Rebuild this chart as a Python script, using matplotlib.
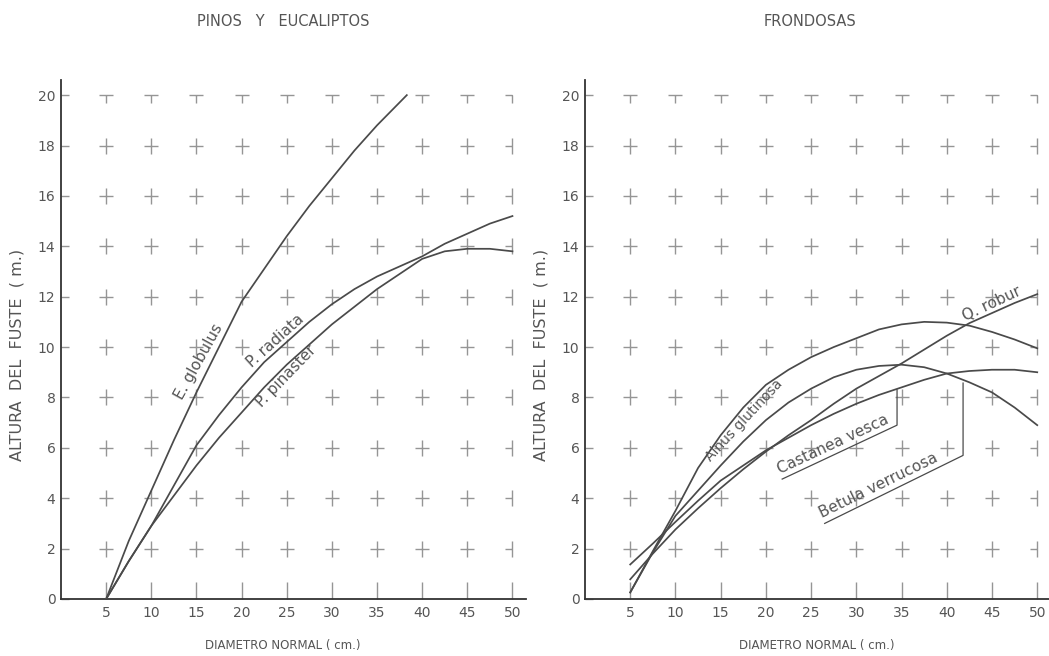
import numpy as np
import matplotlib
matplotlib.use("Agg")
import matplotlib.pyplot as plt
from matplotlib.path import Path

# Curves (diametro normal cm -> altura del fuste m)
d_glob = [5, 7.5, 10, 12.5, 15, 17.5, 20, 22.5, 25, 27.5, 30, 32.5, 35, 38.3]
h_glob = [0, 2.3, 4.3, 6.3, 8.2, 10.0, 11.8, 13.1, 14.4, 15.6, 16.7, 17.8, 18.8, 20.0]

d_pinos = [5, 7.5, 10, 12.5, 15, 17.5, 20, 22.5, 25, 27.5, 30, 32.5, 35, 37.5, 40, 42.5, 45, 47.5, 50]
h_radiata = [0, 1.5, 2.9, 4.5, 6.1, 7.3, 8.4, 9.4, 10.2, 11.0, 11.7, 12.3, 12.8, 13.2, 13.6, 14.1, 14.5, 14.9, 15.2]
h_pinaster = [0, 1.5, 2.9, 4.1, 5.3, 6.4, 7.4, 8.4, 9.3, 10.1, 10.9, 11.6, 12.3, 12.9, 13.5, 13.8, 13.9, 13.9, 13.8]

d_frond = [5, 7.5, 10, 12.5, 15, 17.5, 20, 22.5, 25, 27.5, 30, 32.5, 35, 37.5, 40, 42.5, 45, 47.5, 50]
h_alnus = [0.26, 1.9, 3.5, 5.2, 6.5, 7.6, 8.5, 9.1, 9.6, 10.0, 10.35, 10.7, 10.9, 11.0, 10.97, 10.85, 10.6, 10.3, 9.95]
h_betula = [0.26, 1.85, 3.3, 4.3, 5.3, 6.25, 7.1, 7.8, 8.35, 8.8, 9.1, 9.25, 9.3, 9.2, 8.95, 8.6, 8.2, 7.6, 6.9]
h_castanea = [1.37, 2.2, 3.06, 3.9, 4.7, 5.3, 5.9, 6.4, 6.9, 7.35, 7.75, 8.1, 8.4, 8.7, 8.95, 9.05, 9.1, 9.1, 9.0]
h_robur = [0.78, 1.8, 2.76, 3.6, 4.4, 5.15, 5.85, 6.5, 7.1, 7.75, 8.35, 8.85, 9.35, 9.9, 10.45, 10.95, 11.35, 11.75, 12.1]

x_grid = [5, 10, 15, 20, 25, 30, 35, 40, 45, 50]
y_grid = [2, 4, 6, 8, 10, 12, 14, 16, 18, 20]

INK = "#4a4a4a"
TXT = "#555555"
CROSS = "#959595"


def mk(segs):
    verts, codes = [], []
    for a, b in segs:
        verts += [a, b]
        codes += [Path.MOVETO, Path.LINETO]
    return Path(verts, codes)


plus = mk([((-1, 0), (1, 0)), ((0, -1.15), (0, 1.15))])
tee = mk([((-1, 0), (1, 0)), ((0, 0), (0, -1.15))])
ltee = mk([((-1, 0), (0, 0)), ((0, -1.15), (0, 1.15))])
corner = mk([((-1, 0), (0, 0)), ((0, 0), (0, -1.15))])


def base(ax, xmax):
    ax.set_xlim(0, xmax)
    ax.set_ylim(0, 20.6)
    for s in ["top", "right"]:
        ax.spines[s].set_visible(False)
    for s in ["left", "bottom"]:
        ax.spines[s].set_color("#333333")
        ax.spines[s].set_linewidth(1.3)
    ax.set_xticks(x_grid)
    ax.set_yticks([0] + y_grid)
    ax.tick_params(axis="x", direction="in", length=12, width=1, color=CROSS,
                   labelsize=10, labelcolor=TXT, pad=5)
    ax.tick_params(axis="y", direction="in", length=6, width=1, color=CROSS,
                   labelsize=10, labelcolor=TXT, pad=4)
    for xv in x_grid:
        for yv in y_grid:
            if yv == 20 and xv == 50:
                m = corner
            elif yv == 20:
                m = tee
            elif xv == 50:
                m = ltee
            else:
                m = plus
            ax.plot(xv, yv, marker=m, ms=12, mew=1.0, color=CROSS, zorder=1, clip_on=False)


def curve_label(ax, text, x, d, h, rot, off, size=11):
    # label sitting beside a curve, shifted off it in points
    ax.annotate(text, xy=(x, np.interp(x, d, h)), xytext=off, textcoords="offset points",
                rotation=rot, rotation_mode="anchor", ha="center", va="center",
                color=TXT, fontsize=size, zorder=4)


def leader_label(ax, text, line_x, line_y, xc, rot):
    # underlined label with a leader running up to its curve
    ax.plot(line_x, line_y, color=INK, lw=0.9, zorder=3)
    yc = np.interp(xc, line_x[:2], line_y[:2])
    ax.annotate(text, xy=(xc, yc), xytext=(-1.0, 1.5), textcoords="offset points",
                rotation=rot, rotation_mode="anchor", ha="center", va="bottom",
                color=TXT, fontsize=11, zorder=4)


fig = plt.figure(figsize=(10.49, 6.56), dpi=100)
ax1 = fig.add_axes([61 / 1049, 1 - 599 / 656, 465 / 1049, 519 / 656])
ax2 = fig.add_axes([585 / 1049, 1 - 599 / 656, 464 / 1049, 519 / 656])
base(ax1, 51.5)
base(ax2, 51.3)

lw = 1.25
ax1.plot(d_glob, h_glob, color=INK, lw=lw, zorder=3)
ax1.plot(d_pinos, h_radiata, color=INK, lw=lw, zorder=3)
ax1.plot(d_pinos, h_pinaster, color=INK, lw=lw, zorder=3)

ax2.plot(d_frond, h_alnus, color=INK, lw=lw, zorder=3)
ax2.plot(d_frond, h_betula, color=INK, lw=lw, zorder=3)
ax2.plot(d_frond, h_castanea, color=INK, lw=lw, zorder=3)
ax2.plot(d_frond, h_robur, color=INK, lw=lw, zorder=3)

curve_label(ax1, "E. globulus", 16.4, d_glob, h_glob, 61, (-7.5, 3.8))
curve_label(ax1, "P. radiata", 24.4, d_pinos, h_radiata, 42, (-4.0, 4.5))
curve_label(ax1, "P. pinaster", 24.3, d_pinos, h_pinaster, 46, (4.0, -4.0))

curve_label(ax2, "Alnus glutinosa", 16.9, d_frond, h_alnus, 47, (4.7, -4.2), size=10)
curve_label(ax2, "Q. robur", 45.3, d_frond, h_robur, 25, (-2.5, 6.0))
leader_label(ax2, "Castanea vesca", [21.8, 34.5, 34.5], [4.76, 6.9, 8.3], 27.9, 25)
leader_label(ax2, "Betula verrucosa", [26.5, 41.8, 41.8], [3.0, 5.7, 8.57], 33.0, 26)

fig.text(283 / 1049, 1 - 22 / 656, "PINOS   Y   EUCALIPTOS", color=TXT, fontsize=10.5,
         ha="center", va="center")
fig.text(810 / 1049, 1 - 22 / 656, "FRONDOSAS", color=TXT, fontsize=10.5,
         ha="center", va="center")
for xc in (283, 817):
    fig.text(xc / 1049, 1 - 645 / 656, "DIAMETRO NORMAL ( cm.)", color=TXT,
             fontsize=8.5, ha="center", va="center")
for xc in (17, 541):
    fig.text(xc / 1049, 1 - 355 / 656, "ALTURA  DEL  FUSTE  ( m.)", color=TXT,
             fontsize=11.5, ha="center", va="center", rotation=90)

fig.savefig("out.png", dpi=100)
